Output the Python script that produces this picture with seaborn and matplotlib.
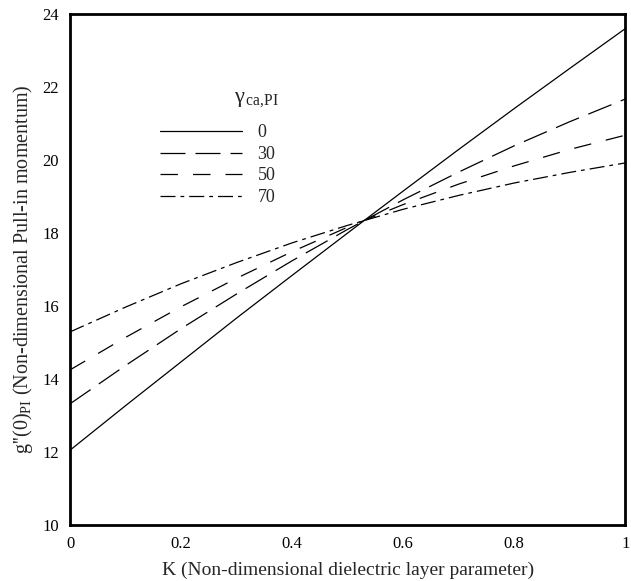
import pandas as pd
import matplotlib
matplotlib.use("Agg")
import matplotlib.pyplot as plt
import seaborn as sns

# K values and curves for each gamma_ca,PI
k_vals   = [0.0, 0.1, 0.2, 0.3, 0.4, 0.5, 0.6, 0.7, 0.8, 0.9, 1.0]
gamma_0  = [12.05, 13.27, 14.47, 15.67, 16.84, 18.00, 19.15, 20.29, 21.41, 22.51, 23.60]
gamma_30 = [13.32, 14.37, 15.38, 16.33, 17.24, 18.10, 18.91, 19.67, 20.39, 21.05, 21.67]
gamma_50 = [14.25, 15.14, 15.98, 16.76, 17.49, 18.16, 18.78, 19.34, 19.84, 20.29, 20.68]
gamma_70 = [15.29, 15.97, 16.61, 17.19, 17.73, 18.21, 18.65, 19.03, 19.37, 19.66, 19.92]
gamma_labels = ["0", "30", "50", "70"]

x_ticks = [0, 0.2, 0.4, 0.6, 0.8, 1.0]
x_ticklabels = ["0", "0.2", "0.4", "0.6", "0.8", "1"]
y_ticks = [10, 12, 14, 16, 18, 20, 22, 24]

series = [gamma_0, gamma_30, gamma_50, gamma_70]
df = pd.concat(
    [pd.DataFrame({"K": k_vals, "g": vals, "gamma": lab}) for lab, vals in zip(gamma_labels, series)],
    ignore_index=True,
)

sns.set_style("white")
plt.rcParams["font.family"] = ["Liberation Serif", "DejaVu Serif"]
plt.rcParams["mathtext.fontset"] = "custom"
plt.rcParams["mathtext.rm"] = "Liberation Serif"
plt.rcParams["mathtext.it"] = "Liberation Serif:italic"

fig = plt.figure(figsize=(6.31, 5.81), dpi=100)
ax = fig.add_axes([0.111, 0.0964, 0.880, 0.8795])

dashes = {"0": "", "30": (20, 8), "50": (14, 12), "70": (12, 4, 3, 4)}
sns.lineplot(
    data=df, x="K", y="g", hue="gamma", style="gamma",
    palette=["black"] * 4, dashes=dashes, linewidth=0.9, ax=ax,
)

ax.set_xlim(0, 1)
ax.set_ylim(10, 24)
ax.set_xticks(x_ticks)
ax.set_xticklabels(x_ticklabels)
ax.set_yticks(y_ticks)
ax.tick_params(direction="in", length=5, width=2, labelsize=12, colors="black", pad=8)
for sp in ax.spines.values():
    sp.set_linewidth(2)
    sp.set_color("black")

ax.set_xlabel("K (Non-dimensional dielectric layer parameter)", fontsize=14, labelpad=7)
ax.set_ylabel(r"g''(0)$_{\rm PI}$ (Non-dimensional Pull-in momentum)", fontsize=14.5, labelpad=5)

handles, labels = ax.get_legend_handles_labels()
ax.legend(
    handles, labels, frameon=False,
    loc="upper left", bbox_to_anchor=(0.162, 0.784), fontsize=13,
    borderpad=0, borderaxespad=0,
    handlelength=4.55, handletextpad=0.85, labelspacing=0.25,
)
ax.text(0.295, 0.833, r"γ$_{\,\rm ca{,}PI}$", transform=ax.transAxes,
        fontsize=16, ha="left", va="center")

fig.savefig("out.png", dpi=100)
plt.close(fig)
